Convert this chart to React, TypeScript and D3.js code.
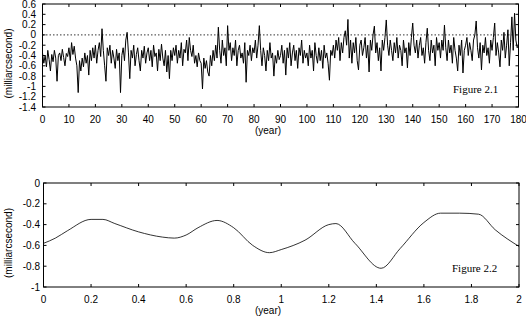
import * as d3 from 'd3';

// Figure 2.1: half-year samples, years 0..180
const years21 = d3.range(0, 180.5, 0.5);
const values21 = [
  -0.35, -0.55, -0.4, -0.62, -0.3, -0.48, -0.7, -0.38, -0.52, -0.3, -0.45, -0.9, -0.4, -0.35, -0.5, -0.28, -0.44, -0.6, -0.36, -0.42,
  -0.25, -0.5, -0.15, -0.38, -0.22, -0.45, -0.6, -1.12, -0.5, -0.7, -0.45, -0.62, -0.35, -0.55, -0.4, -0.78, -0.3, -0.5, -0.25, -0.45,
  -0.2, -0.55, -0.3, -0.15, -0.42, 0.12, -0.3, -0.6, -0.9, -0.25, -0.4, -0.2, -0.55, -0.3, -0.45, -0.65, -0.28, -0.5, -0.35, -1.12,
  -0.4, -0.25, -0.5, -0.1, 0.05, -0.35, -0.85, -0.3, -0.45, -0.2, -0.6, -0.38, -0.25, -0.5, -0.7, -0.3, -0.45, -0.22, -0.55, -0.35,
  -0.25, -0.5, -0.3, -0.62, -0.2, -0.42, -0.35, -0.7, -0.28, -0.5, -0.18, -0.45, -0.6, -0.3, -0.72, -0.4, -0.85, -0.3, -0.5, -0.25,
  -0.4, -0.2, -0.55, -0.3, -0.45, -0.15, -0.6, -0.28, -0.35, -0.1, -0.5, -0.05, -0.3, -0.42, -0.2, -0.55, -0.4, -0.62, -0.35, -0.5,
  -0.55, -1.05, -0.45, -0.65, -0.5, -0.72, -0.8, -0.4, -0.6, -0.3, -0.5, -0.2, -0.45, 0.15, -0.3, -0.55, -0.1, -0.4, -0.25, -0.6,
  0.18, -0.3, -0.15, -0.5, -0.25, -0.4, -0.1, -0.6, -0.3, -0.2, -0.45, -0.35, -0.55, -0.15, -0.92, -0.3, -0.4, -0.2, -0.5, -0.25,
  -0.35, -0.1, -0.45, -0.2, 0.18, -0.3, -0.6, -0.25, -0.4, -0.7, -0.3, -0.5, -0.15, -0.45, -0.35, -0.8, -0.4, -0.55, -0.3, -0.48,
  -0.4, -0.2, -0.55, -0.3, -0.78, -0.25, -0.45, -0.15, -0.6, -0.35, -0.2, -0.5, -0.3, -0.65, -0.25, -0.4, -0.1, -0.55, -0.3, -0.45,
  -0.35, -0.6, -0.2, -0.45, -0.3, -0.7, -0.15, -0.4, -0.55, -0.25, -0.5, -0.3, -0.65, -0.2, -0.45, -0.35, -0.55, -0.88, -0.3, -0.4,
  -0.2, -0.45, -0.1, -0.3, -0.05, -0.5, -0.15, -0.35, -0.05, 0.08, -0.2, 0.3, -0.45, -0.1, -0.55, -0.15, -0.35, -0.05, -0.5, -0.68,
  -0.2, -0.1, -0.4, -0.25, -0.05, -0.45, -0.2, -0.72, -0.1, -0.3, 0.0, 0.17, -0.35, -0.15, -0.5, -0.25, -0.7, -0.1, -0.3, -0.05,
  0.29, -0.2, -0.4, -0.1, -0.3, -0.5, -0.15, -0.35, -0.05, -0.45, -0.2, -0.3, -0.6, -0.1, -0.35, -0.25, -0.64, -0.15, -0.4, -0.05,
  0.23, -0.2, -0.35, -0.1, -0.45, -0.2, -0.05, -0.4, -0.25, -0.55, -0.15, 0.13, -0.3, -0.5, -0.1, -0.35, -0.2, -0.6, -0.05, -0.3,
  -0.15, -0.45, -0.1, -0.3, 0.19, -0.25, -0.5, -0.1, -0.35, -0.2, -0.55, -0.05, -0.3, -0.45, -0.7, -0.2, -0.4, -0.1, -0.74, -0.3,
  -0.2, -0.05, -0.4, -0.15, -0.3, -0.5, -0.1, 0.0, 0.27, -0.25, -0.45, -0.15, -0.68, -0.2, -0.35, -0.05, -0.4, -0.25, -0.55, -0.1,
  -0.3, -0.05, 0.23, -0.4, -0.15, -0.35, -0.62, -0.1, -0.3, 0.05, -0.45, -0.2, 0.1, -0.6, -0.15, 0.35, -0.3, 0.42, -0.1, -0.25,
  -0.2,
];
const xTicks21 = d3.range(0, 181, 10);
const yTicks21 = [0.6, 0.4, 0.2, 0, -0.2, -0.4, -0.6, -0.8, -1, -1.2, -1.4];

// Figure 2.2: smooth curve over two years
const years22 = [0, 0.05, 0.1, 0.2, 0.25, 0.3, 0.4, 0.5, 0.55, 0.6, 0.65, 0.73, 0.8, 0.88, 0.95, 1.0, 1.1, 1.2, 1.23, 1.31, 1.42, 1.5, 1.6, 1.67, 1.75, 1.83, 1.9, 2.0];
const values22 = [-0.58, -0.53, -0.46, -0.35, -0.35, -0.39, -0.47, -0.52, -0.53, -0.5, -0.43, -0.36, -0.43, -0.6, -0.67, -0.64, -0.55, -0.4, -0.39, -0.58, -0.82, -0.63, -0.38, -0.29, -0.29, -0.3, -0.45, -0.61];
const xTicks22 = [0, 0.2, 0.4, 0.6, 0.8, 1, 1.2, 1.4, 1.6, 1.8, 2];
const yTicks22 = [0, -0.2, -0.4, -0.6, -0.8, -1];

const sans = '"Liberation Sans", Arial, sans-serif';
const serif = '"Liberation Serif", "Times New Roman", serif';

type PanelProps = {
  xs: number[];
  ys: number[];
  xDomain: [number, number];
  yDomain: [number, number];
  left: number;
  right: number;
  top: number;
  bottom: number;
  xTicks: number[];
  yTicks: number[];
  yLabelX: number;
  caption: string;
  captionX: number;
  captionY: number;
  zeroLine: boolean;
  curve: d3.CurveFactory;
  strokeWidth: number;
};

function Panel(p: PanelProps) {
  const x = d3.scaleLinear().domain(p.xDomain).range([p.left, p.right]);
  const y = d3.scaleLinear().domain(p.yDomain).range([p.bottom, p.top]);
  const line = d3.line<number>()
    .x((_, i) => x(p.xs[i]))
    .y((v) => y(v))
    .curve(p.curve);
  const fmt = (v: number) => String(Math.round(v * 10) / 10);
  const midY = (p.top + p.bottom) / 2;
  const tl = 3;

  return (
    <g>
      {p.zeroLine && (
        <line x1={p.left} x2={p.right} y1={y(0)} y2={y(0)} stroke="#000" strokeWidth={0.8} strokeDasharray="1.5,2" />
      )}
      <path d={line(p.ys) || ''} fill="none" stroke="#000" strokeWidth={p.strokeWidth} />
      <rect x={p.left} y={p.top} width={p.right - p.left} height={p.bottom - p.top} fill="none" stroke="#000" strokeWidth={1} />
      {p.yTicks.map((t) => (
        <g key={'y' + t}>
          <line x1={p.left} x2={p.left + tl} y1={y(t)} y2={y(t)} stroke="#000" />
          <line x1={p.right - tl} x2={p.right} y1={y(t)} y2={y(t)} stroke="#000" />
          <text x={p.yLabelX} y={y(t)} dy="0.35em" textAnchor="end" fontSize={10} fontFamily={sans}>{fmt(t)}</text>
        </g>
      ))}
      {p.xTicks.map((t) => (
        <g key={'x' + t}>
          <line x1={x(t)} x2={x(t)} y1={p.bottom} y2={p.bottom - tl} stroke="#000" />
          <line x1={x(t)} x2={x(t)} y1={p.top} y2={p.top + tl} stroke="#000" />
          <text x={x(t)} y={p.bottom + 16} textAnchor="middle" fontSize={10} fontFamily={sans}>{fmt(t)}</text>
        </g>
      ))}
      <text x={268} y={p.bottom + 27} textAnchor="middle" fontSize={10} fontFamily={sans}>(year)</text>
      <text transform={`translate(12, ${midY + 8}) rotate(-90)`} textAnchor="middle" fontSize={10} fontFamily={sans}>(milliarcsecond)</text>
      <text x={p.captionX} y={p.captionY} fontSize={11} fontFamily={serif}>{p.caption}</text>
    </g>
  );
}

export default function App() {
  return (
    <svg width={526} height={319} style={{ position: 'absolute', left: 0, top: 0, background: '#fff' }}>
      <rect width={526} height={319} fill="#fff" />
      <Panel
        xs={years21} ys={values21} xDomain={[0, 180]} yDomain={[-1.4, 0.6]}
        left={42.5} right={518.5} top={4} bottom={107}
        xTicks={xTicks21} yTicks={yTicks21} yLabelX={36}
        caption="Figure 2.1" captionX={453} captionY={93}
        zeroLine={true} curve={d3.curveLinear} strokeWidth={1}
      />
      <Panel
        xs={years22} ys={values22} xDomain={[0, 2]} yDomain={[-1, 0]}
        left={43.5} right={519} top={183} bottom={287}
        xTicks={xTicks22} yTicks={yTicks22} yLabelX={40}
        caption="Figure 2.2" captionX={452} captionY={272}
        zeroLine={false} curve={d3.curveMonotoneX} strokeWidth={0.8}
      />
    </svg>
  );
}
